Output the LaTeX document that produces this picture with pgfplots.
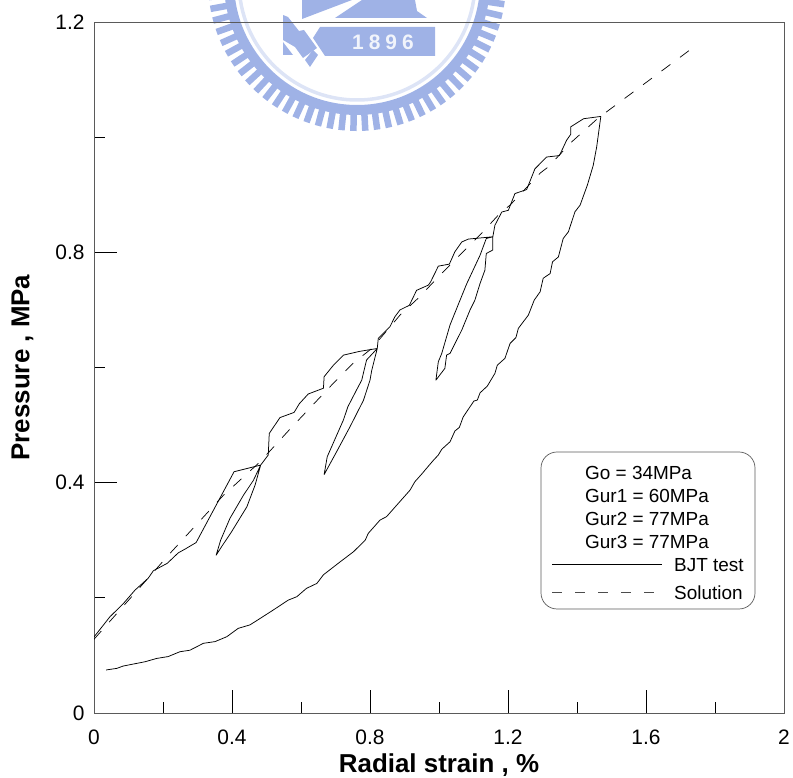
\documentclass[border=0pt]{standalone}
\usepackage{pgfplots}
\pgfplotsset{compat=1.18}
\usepackage{fontspec}
\setmainfont{Liberation Sans}
\definecolor{seal}{HTML}{9FB2E6}
\definecolor{axisgray}{HTML}{5A5A5A}
\begin{document}
\begin{tikzpicture}[x=1bp,y=1bp]
\path[use as bounding box] (0,0) rectangle (793,778);
% faded seal behind the chart
\begin{scope}[shift={(0,778)},y=-1bp]
\clip (0,0) rectangle (793,778);
\def\cx{357}\def\cy{-18}
\foreach \a in {4,8.6,...,177}{
  \draw[seal,line width=6.5bp] ({\cx+128*cos(\a)},{\cy+128*sin(\a)}) -- ({\cx+149*cos(\a)},{\cy+149*sin(\a)});
}
\draw[seal,line width=10bp] (\cx,\cy) circle[radius=128];
\draw[seal!35,line width=3.5bp] (\cx,\cy) circle[radius=118];
\fill[seal] (320,27) -- (435,27) -- (435,56) -- (325,56) -- (313,38) -- cycle;
\node[text=white!85!seal,font=\bfseries\fontsize{21}{21}\selectfont,anchor=center] at (383,42) {1\hspace{5bp}8\hspace{5bp}9\hspace{5bp}6};
\fill[seal] (302,0) -- (302,19) -- (352,0) -- cycle;
\fill[seal] (335,18) -- (362,0) -- (415,0) -- (417,11) -- (427,18) -- cycle;
\fill[seal] (283,15) -- (288,17) -- (299,31) -- (304,30) -- (317,48) -- (303,58) -- (295,47) -- (283,40) -- cycle;
\fill[seal] (283,42) -- (283,55) -- (293,55) -- cycle;
\fill[seal] (305,60) -- (313,50) -- (318,55) -- (310,67) -- cycle;
\end{scope}
\begin{axis}[
  at={(94bp,65bp)},anchor=south west,
  scale only axis,width=690bp,height=691bp,
  xmin=0,xmax=2,ymin=0,ymax=1.2,
  axis line style={axisgray,line width=0.9bp},
  tick align=inside,tick pos=left,
  xtick={0,0.4,0.8,1.2,1.6,2},
  ytick={0,0.4,0.8,1.2},
  minor xtick={0.2,0.6,1,1.4,1.8},
  minor ytick={0.2,0.6,1},
  major tick length=23bp,minor tick length=11bp,
  tick style={black,line width=0.7bp},
  every tick/.append style={black,line width=0.7bp},
  ticklabel style={font=\fontsize{21}{21}\selectfont,/pgf/number format/assume math mode=true},
  xticklabel style={yshift=-13bp},
  yticklabel style={xshift=-6bp},
  xlabel={\textbf{Radial strain , \%}},
  ylabel={\textbf{Pressure , MPa}},
  every axis x label/.style={at={(axis description cs:0.5,0)},anchor=north,yshift=-37bp,font=\fontsize{26}{26}\selectfont},
  every axis y label/.style={at={(axis description cs:0,0.5)},anchor=south,xshift=-57bp,rotate=90,font=\fontsize{26}{26}\selectfont},
]
\addplot[black,line width=0.75bp,line join=round] coordinates {
(0,.132)(.046,.167)(.085,.190)(.119,.2135)(.157,.234)(.172,.247)(.2125,.26)(.244,.278)(.265,.285)(.296,.296)
(.406,.419)(.483,.4305)
(.467,.396)(.443,.358)(.399,.315)(.370,.289)(.354,.274)
(.367,.300)(.394,.338)(.433,.378)(.462,.404)(.483,.4305)
(.505,.448)(.508,.4855)(.539,.513)(.580,.522)(.595,.537)(.621,.554)(.665,.564)(.667,.584)(.694,.604)(.723,.6215)(.770,.628)(.821,.633)
(.805,.595)(.800,.578)(.781,.543)(.742,.497)(.703,.4535)(.667,.414)
(.676,.445)(.723,.509)(.736,.532)(.761,.561)(.776,.578)(.790,.613)(.821,.633)
(.824,.6505)(.858,.671)(.872,.688)(.887,.70)(.914,.708)(.935,.734)(.969,.743)(.976,.749)(.998,.776)(1.030,.7795)(1.046,.801)(1.066,.818)(1.085,.823)(1.156,.827)
(1.156,.804)(1.137,.798)(1.133,.769)(1.119,.746)(1.104,.717)(1.09,.70)(1.066,.665)(1.032,.6245)(1.022,.6215)(1.017,.5985)(.991,.578)
(.998,.61)(1.008,.6245)(1.032,.674)(1.061,.717)(1.080,.745)(1.119,.795)(1.137,.824)(1.156,.827)
(1.162,.847)(1.182,.870)(1.201,.873)(1.220,.902)(1.254,.909)(1.278,.945)(1.312,.9655)(1.349,.968)(1.370,.9948)(1.382,1.005)(1.382,1.018)(1.419,1.032)(1.469,1.036)
(1.457,.983)(1.447,.951)(1.430,.9167)(1.409,.882)(1.394,.8703)(1.375,.8356)(1.360,.824)(1.346,.792)(1.329,.7835)(1.322,.763)(1.302,.755)(1.293,.7314)(1.276,.717)(1.259,.691)(1.230,.668)(1.223,.652)(1.206,.6418)(1.191,.6158)(1.169,.604)(1.162,.5897)(1.140,.5677)(1.119,.556)(1.111,.5434)(1.101,.5417)(1.070,.514)(1.059,.496)(1.046,.4896)(1.032,.471)(1.008,.458)(.998,.448)(.984,.439)(.964,.425)(.950,.415)(.930,.4016)(.916,.387)
(.882,.364)(.848,.341)(.829,.335)(.795,.312)(.786,.300)(.752,.280)(.708,.260)(.665,.240)(.646,.225)(.616,.2165)(.588,.202)(.563,.196)(.520,.179)(.481,.164)(.452,.153)(.418,.147)(.385,.1325)(.351,.124)(.317,.121)(.278,.109)(.249,.1064)(.215,.098)(.182,.0948)(.148,.089)(.085,.0816)(.066,.0775)(.035,.0747)
};
\addplot[black,line width=0.7bp,dash pattern=on 11bp off 12bp] coordinates {
(0,.128)(.22,.277)(.375,.378)(.481,.436)(.568,.493)(.684,.5665)(.751,.6075)(.805,.633)(.887,.691)(.939,.72)(1.012,.766)(1.08,.807)(1.128,.836)(1.177,.868)(1.206,.882)(1.293,.9375)(1.316,.948)(1.385,.992)(1.461,1.033)(1.515,1.057)(1.733,1.154)
};
\end{axis}
% legend box
\draw[axisgray,line width=0.7bp,rounded corners=16bp,fill=white] (541,778-452) rectangle (755,778-609);
\begin{scope}[every node/.style={font=\fontsize{19}{19}\selectfont,anchor=west,inner sep=0pt}]
\node at (585,778-473) {Go = 34MPa};
\node at (585,778-496) {Gur1 = 60MPa};
\node at (585,778-519) {Gur2 = 77MPa};
\node at (585,778-542) {Gur3 = 77MPa};
\node at (674,778-565) {BJT test};
\node at (674,778-593) {Solution};
\end{scope}
\draw[black,line width=0.7bp] (552,778-564) -- (662,778-564);
\draw[black!70,line width=0.7bp,dash pattern=on 10bp off 13bp] (552,778-592) -- (658,778-592);
\end{tikzpicture}
\end{document}
